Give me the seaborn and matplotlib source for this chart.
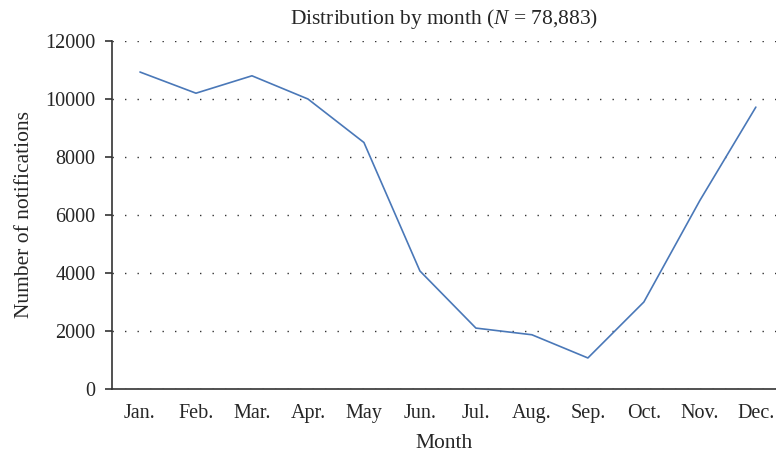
import numpy as np
import pandas as pd
import matplotlib
matplotlib.use("Agg")
import matplotlib.pyplot as plt
import seaborn as sns

months = ["Jan.", "Feb.", "Mar.", "Apr.", "May", "Jun.", "Jul.", "Aug.", "Sep.", "Oct.", "Nov.", "Dec."]
notifications = [10930, 10200, 10800, 10000, 8500, 4070, 2100, 1870, 1070, 3000, 6500, 9720]
y_ticks = [0, 2000, 4000, 6000, 8000, 10000, 12000]

sns.set_style("white")
plt.rcParams["font.family"] = ["Liberation Serif", "DejaVu Serif"]
plt.rcParams["mathtext.fontset"] = "custom"
plt.rcParams["mathtext.rm"] = "Liberation Serif"
plt.rcParams["mathtext.it"] = "Liberation Serif:italic"

df = pd.DataFrame({"month": months, "n": notifications})

fig = plt.figure(figsize=(7.76, 4.53), dpi=100)
ax = fig.add_axes([0.1443, 0.1413, 0.8557, 0.7682])

sns.lineplot(data=df, x="month", y="n", ax=ax, color="#4a78b8", linewidth=1.2, sort=False)

ax.set_xlim(-0.5, 11.36)
ax.set_ylim(0, 12000)
ax.set_yticks(y_ticks)
ax.set_yticklabels([str(t) for t in y_ticks])
ax.yaxis.grid(True, color="#333333", linestyle=(0, (1, 8)), linewidth=1.0)
ax.xaxis.grid(False)

for s in ["top", "right"]:
    ax.spines[s].set_visible(False)
for s in ["left", "bottom"]:
    ax.spines[s].set_color("#333333")
    ax.spines[s].set_linewidth(1.2)

ax.tick_params(axis="y", which="both", left=True, length=5, width=1.2, color="#333333",
               labelsize=14.5, pad=7)
ax.tick_params(axis="x", bottom=False, labelsize=14.5, pad=7)

ax.set_xlabel("Month", fontsize=15.5, labelpad=8)
ax.set_ylabel("Number of notifications", fontsize=15.5, labelpad=8)
ax.set_title(r"Distribution by month ($N$ = 78,883)", fontsize=15.5, pad=12)

fig.savefig("out.png", dpi=100)
